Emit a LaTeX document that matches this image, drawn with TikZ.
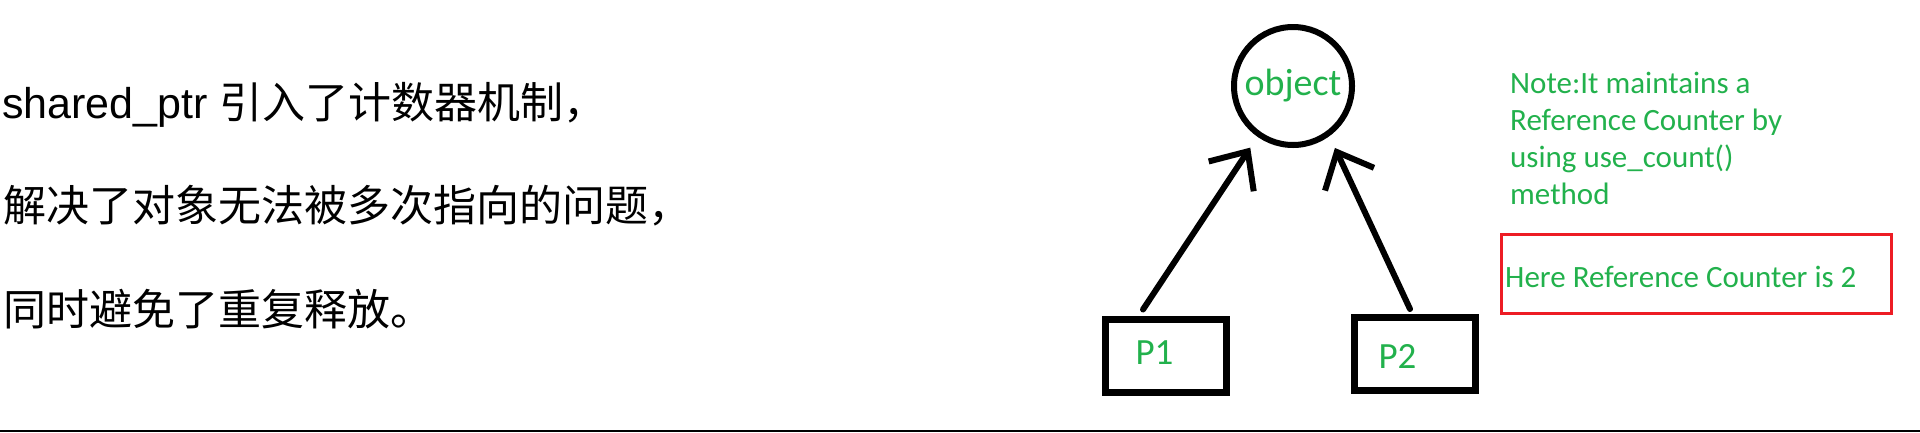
\documentclass[tikz,border=0pt]{standalone}
\usepackage{fontspec}
\setmainfont{Carlito}
\newfontfamily\cjk{Noto Sans CJK SC}
\newfontfamily\latinfont{Liberation Sans}
\usetikzlibrary{arrows.meta}

\begin{document}
\begin{tikzpicture}[x=1pt,y=-1pt,line cap=round,
% Styles
body text/.style={anchor=base west,inner sep=0pt,font=\fontsize{43pt}{50pt}\selectfont\cjk},
object node/.style={circle,draw,line width=6pt,minimum size=118pt,inner sep=0pt,text=paintgreen,font=\fontsize{38pt}{46pt}\selectfont},
pointer box/.style={rectangle,draw,line width=7pt,minimum width=121pt,minimum height=73pt,inner sep=0pt},
pointer text/.style={text=paintgreen,inner sep=0pt,font=\fontsize{37pt}{44pt}\selectfont},
pointer arrow/.style={line width=6pt,-{Straight Barb[length=30pt,width=54pt]},shorten >=13pt},
note text/.style={anchor=base west,inner sep=0pt,align=left,text=paintgreen,font=\fontsize{31pt}{37pt}\selectfont},
count box/.style={draw=paintred,line width=2.7pt,anchor=west,minimum width=390pt,minimum height=79pt,inner sep=0pt}]
% Colors
\definecolor{paintgreen}{RGB}{34,177,76}
\definecolor{paintred}{RGB}{237,28,36}
\useasboundingbox (0,0) rectangle (1920,432);
% left text
\node[body text] (line one) at (2,118) {{\latinfont\fontsize{43pt}{50pt}\selectfont shared\_ptr }引入了计数器机制，};
\node[body text] (line two) at (3,221) {解决了对象无法被多次指向的问题，};
\node[body text] (line three) at (3,325) {同时避免了重复释放。};
% object and pointers
\node[object node] (obj) at (1293,86) {object};
\node[pointer box] (p1) at (1166,355.5) {};
\node[pointer text] (p1 label) at ([xshift=-11.5pt,yshift=2.5pt]p1.center) {P1};
\node[pointer box] (p2) at (1414.5,354) {};
\node[pointer text] (p2 label) at ([xshift=-17pt,yshift=-2pt]p2.center) {P2};
\draw[pointer arrow] ([xshift=-23pt,yshift=6pt]p1.north) -- (obj.235);
\draw[pointer arrow] ([xshift=-4.5pt,yshift=5pt]p2.north) -- (obj.306);
% note
\node[note text] (note) at (1510,204) {Note:It maintains a\\Reference Counter by\\using use\_count()\\method};
\node[count box] (count) at (1500,274) {};
\node[note text] (count label) at (1505,287) {Here Reference Counter is 2};
% bottom rule
\draw[line width=1.5pt] (0,431) -- (1920,431);
\end{tikzpicture}
\end{document}
